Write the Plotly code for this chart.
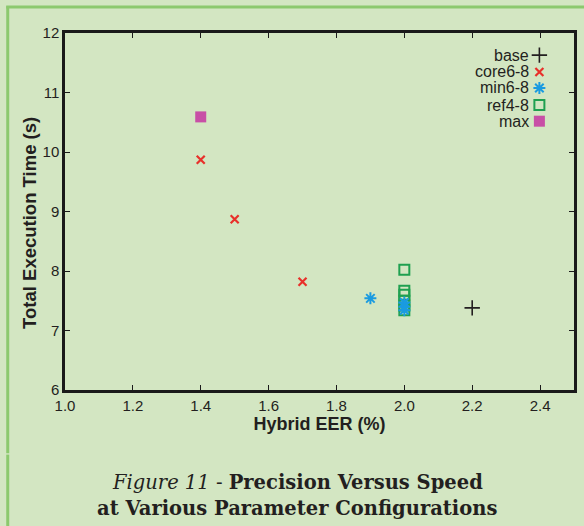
import plotly.graph_objects as go

# ---- data ----
base_x = [2.2]
base_y = [7.38]
core_x = [1.4, 1.5, 1.7]
core_y = [9.87, 8.87, 7.82]
min_x = [1.9, 2.0, 2.0, 2.0]
min_y = [7.54, 7.47, 7.40, 7.34]
ref_x = [2.0, 2.0, 2.0, 2.0, 2.0, 2.0]
ref_y = [8.02, 7.67, 7.60, 7.50, 7.42, 7.34]
max_x = [1.4]
max_y = [10.59]

series_names = ["base", "core6-8", "min6-8", "ref4-8", "max"]
x_ticks = [1.0, 1.2, 1.4, 1.6, 1.8, 2.0, 2.2, 2.4]
y_ticks = [6, 7, 8, 9, 10, 11, 12]

BG = "#d3e6c2"
TXT = "#231f20"
SANS = "Liberation Sans, Arial"
SERIF = "DejaVu Serif, serif"
styles = {
    "base": dict(symbol="cross-thin-open", size=11, color="#231f20", line=dict(width=1.6, color="#231f20")),
    "core6-8": dict(symbol="x-thin-open", size=8, color="#e8302a", line=dict(width=2.2, color="#e8302a")),
    "min6-8": dict(symbol="asterisk-open", size=10, color="#1a9be0", line=dict(width=2, color="#1a9be0")),
    "ref4-8": dict(symbol="square-open", size=10, color="#1fa050", line=dict(width=2, color="#1fa050")),
    "max": dict(symbol="square", size=11, color="#c84fa6", line=dict(width=0)),
}

fig = go.Figure()
data = {
    "base": (base_x, base_y),
    "core6-8": (core_x, core_y),
    "min6-8": (min_x, min_y),
    "ref4-8": (ref_x, ref_y),
    "max": (max_x, max_y),
}
for name in ["base", "core6-8", "ref4-8", "min6-8", "max"]:
    xs, ys = data[name]
    fig.add_trace(go.Scatter(x=xs, y=ys, mode="markers", name=name,
                             marker=styles[name], showlegend=False,
                             xaxis="x", yaxis="y"))

# custom legend: text right-aligned, symbol to the right
leg_text_x = 0.9155
leg_sym_x = 0.932
leg_ys = [0.938, 0.891, 0.846, 0.798, 0.753]
for name, ly in zip(series_names, leg_ys):
    fig.add_annotation(x=leg_text_x, y=ly, xref="paper", yref="paper",
                       text=name, showarrow=False, xanchor="right", yanchor="middle",
                       font=dict(family=SANS, size=16, color=TXT))
    fig.add_trace(go.Scatter(x=[leg_sym_x], y=[ly], mode="markers", marker=styles[name],
                             showlegend=False, xaxis="x2", yaxis="y2", hoverinfo="skip"))

# y-axis title (as annotation to match its offset)
fig.add_annotation(x=-0.0688, y=0.468, xref="paper", yref="paper", showarrow=False,
                   xanchor="center", yanchor="middle", textangle=-90,
                   text="<b>Total Execution Time (s)</b>",
                   font=dict(family=SANS, size=18.5, color=TXT))

# caption
fig.add_annotation(x=0.456, y=-0.2605, xref="paper", yref="paper", showarrow=False,
                   xanchor="center", yanchor="middle",
                   text="<i>Figure 11</i> - <b>Precision Versus Speed</b>",
                   font=dict(family=SERIF, size=19.5, color=TXT))
fig.add_annotation(x=0.456, y=-0.331, xref="paper", yref="paper", showarrow=False,
                   xanchor="center", yanchor="middle",
                   text="<b>at Various Parameter Configurations</b>",
                   font=dict(family=SERIF, size=19.5, color=TXT))

# green page border (left and top)
BORDER = "#8cc96e"
fig.add_shape(type="line", xref="paper", yref="paper", x0=-0.1125, x1=-0.1125, y0=1.075, y1=-0.177,
              line=dict(color=BORDER, width=3))
fig.add_shape(type="line", xref="paper", yref="paper", x0=-0.1125, x1=-0.1125, y0=-0.181, y1=-0.40,
              line=dict(color=BORDER, width=3))
fig.add_shape(type="line", xref="paper", yref="paper", x0=-0.1155, x1=1.03, y0=1.0725, y1=1.0725,
              line=dict(color=BORDER, width=3))

axis_common = dict(showline=True, linecolor="#1a1a1a", linewidth=2.5, mirror="ticks",
                   ticks="inside", ticklen=5, tickwidth=1.2, tickcolor="#1a1a1a",
                   showgrid=False, zeroline=False, automargin=False,
                   tickfont=dict(family=SANS, size=15, color=TXT))

fig.update_layout(
    width=584, height=526,
    margin=dict(l=65, r=10, t=33, b=136),
    paper_bgcolor=BG, plot_bgcolor=BG,
    xaxis=dict(range=[1.0, 2.5], tickvals=x_ticks, ticktext=[f"{v:.1f}" for v in x_ticks],
               title=dict(text="<b>Hybrid EER (%)</b>", standoff=2,
                          font=dict(family=SANS, size=18, color=TXT)),
               **axis_common),
    yaxis=dict(range=[6, 12], tickvals=y_ticks, **axis_common),
    xaxis2=dict(range=[0, 1], overlaying="x", visible=False, fixedrange=True),
    yaxis2=dict(range=[0, 1], overlaying="y", visible=False, fixedrange=True),
)

fig.write_html("out.html", config={"displayModeBar": False},
               post_script="document.body.style.margin='0px';")
